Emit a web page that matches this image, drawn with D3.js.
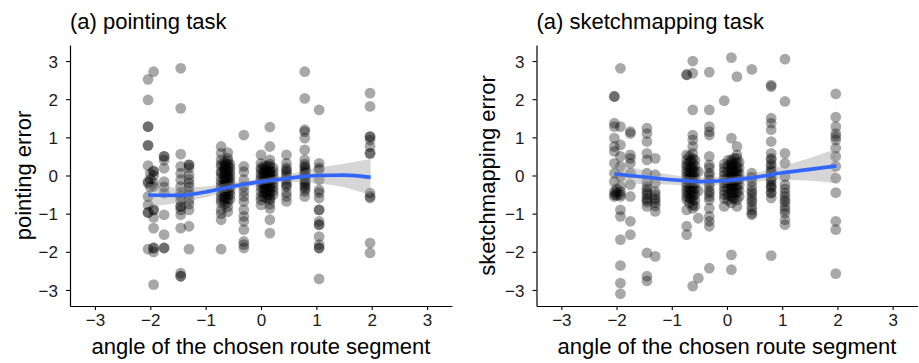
<!DOCTYPE html>
<html><head><meta charset="utf-8">
<script src="https://cdn.jsdelivr.net/npm/d3@7"></script>
<style>
html,body{margin:0;padding:0;background:#fff;}
svg{display:block;font-family:"Liberation Sans",Arial,Helvetica,sans-serif;}
</style></head><body>
<svg id="chart" width="919" height="363"></svg>
<script>
// ---------- data ----------
const xTicks = [-3, -2, -1, 0, 1, 2, 3];
const yTicks = [-3, -2, -1, 0, 1, 2, 3];
const panelTitles = ["(a) pointing task", "(a) sketchmapping task"];
const yTitles = ["pointing error", "sketchmapping error"];
const xTitle = "angle of the chosen route segment";

// pointing task points (x = angle, y = error)
const pointX = [
 -2.04,-2.04,-2.04,-2.04,-2.04,-2.04,-2.04,-2.04,-2.04,-2.04,-2.04,-2.04,-2.04,-2.04,
 -1.94,-1.94,-1.94,-1.94,-1.94,-1.94,-1.94,-1.94,-1.94,-1.94,-1.94,-1.94,-1.94,-1.94,
 -2.00,-2.00,-2.00,
 -1.75,-1.75,-1.75,-1.75,-1.75,-1.75,-1.75,-1.75,-1.75,-1.75,-1.75,
 -1.45,-1.45,-1.45,-1.45,-1.45,-1.45,-1.45,-1.45,-1.45,-1.45,-1.45,-1.45,-1.45,-1.45,-1.45,-1.45,-1.45,-1.45,
 -1.30,-1.30,-1.30,-1.30,-1.30,-1.30,-1.30,-1.30,-1.30,-1.30,-1.30,-1.30,-1.30,-1.30,
 -0.72,-0.72,-0.72,-0.72,-0.72,-0.72,-0.72,-0.72,-0.72,-0.72,-0.72,-0.72,-0.72,-0.72,-0.72,-0.72,-0.72,-0.72,-0.72,
 -0.66,-0.66,-0.66,-0.66,-0.66,-0.66,-0.66,-0.66,-0.66,-0.66,-0.66,-0.66,-0.66,-0.66,
 -0.64,-0.64,-0.64,-0.64,-0.64,-0.64,-0.64,
 -0.60,-0.60,-0.60,-0.60,-0.60,-0.60,-0.60,-0.60,-0.60,-0.60,-0.60,-0.60,-0.60,-0.60,-0.60,-0.60,-0.60,-0.60,-0.60,
 -0.56,-0.56,-0.56,-0.56,-0.56,-0.56,-0.56,-0.56,-0.56,-0.56,
 -0.31,-0.31,-0.31,-0.31,-0.31,-0.31,-0.31,-0.31,-0.31,-0.31,-0.31,-0.31,-0.31,-0.31,-0.31,
 0.00,0.00,0.00,0.00,0.00,0.00,0.00,0.00,0.00,0.00,0.00,0.00,0.00,
 0.05,0.05,0.05,0.05,0.05,0.05,0.05,0.05,0.05,
 0.08,0.08,0.08,0.08,0.08,0.08,0.08,
 0.10,0.10,0.10,0.10,0.10,0.10,
 0.12,0.12,0.12,0.12,0.12,0.12,
 0.16,0.16,0.16,0.16,0.16,0.16,0.16,0.16,0.16,0.16,0.16,0.16,0.16,0.16,0.16,0.16,0.16,0.16,0.16,0.16,0.16,0.16,
 0.22,0.22,0.22,0.22,0.22,0.22,0.22,0.22,
 0.46,0.46,0.46,0.46,0.46,0.46,0.46,0.46,0.46,0.46,0.46,0.46,0.46,0.46,
 0.79,0.79,0.79,0.79,0.79,0.79,0.79,0.79,0.79,0.79,0.79,0.79,0.79,0.79,0.79,0.79,0.79,
 0.80,0.80,0.80,0.80,0.80,0.80,
 1.05,1.05,1.05,1.05,1.05,1.05,1.05,1.05,1.05,1.05,1.05,1.05,1.05,1.05,1.05,1.05,1.05,1.05,
 1.97,1.97,1.97,1.97,1.97,1.97,1.97,1.97,1.97,1.97,1.97,1.97,1.97
];
const pointY = [
 2.52,1.98,1.28,1.28,0.79,0.79,0.26,-0.16,-0.20,-0.55,-0.77,-0.97,-0.97,-1.93,
 2.72,0.12,0.10,0.00,-0.20,-0.29,-0.90,-0.90,-1.10,-1.38,-1.90,-1.90,-2.00,-2.86,
 -0.10,-0.30,0.05,
 0.50,0.50,0.40,0.19,-0.16,-0.30,-0.46,-1.03,-1.55,-1.90,-1.90,
 2.81,1.76,0.56,0.24,0.06,-0.11,-0.29,-0.55,-0.81,-0.81,-0.90,-1.03,-1.38,-2.56,-2.64,-2.64,-0.45,-0.65,
 0.28,0.28,0.20,0.02,-0.20,-0.30,-0.42,-0.64,-0.90,-1.33,-1.93,-0.10,-0.50,-0.75,
 0.76,0.58,0.41,0.30,0.24,0.10,0.06,-0.05,-0.16,-0.25,-0.33,-0.45,-0.55,-0.64,-0.72,-0.90,-1.00,-1.16,-1.93,
 0.35,0.25,0.18,0.10,0.02,-0.05,-0.12,-0.20,-0.28,-0.36,-0.45,-0.55,-0.65,-0.75,
 0.30,0.15,0.00,-0.15,-0.30,-0.45,-0.60,
 0.60,0.45,0.38,0.30,0.22,0.15,0.08,0.00,-0.06,-0.12,-0.20,-0.28,-0.35,-0.42,-0.50,-0.60,-0.70,-0.82,-0.95,
 0.30,0.20,0.10,0.00,-0.10,-0.20,-0.30,-0.40,-0.50,-0.62,
 1.06,0.24,0.10,-0.11,-0.30,-0.42,-0.55,-0.68,-0.90,-1.07,-1.20,-1.42,-1.73,-1.81,-1.90,
 0.54,0.32,0.20,0.15,0.05,-0.03,-0.10,-0.20,-0.30,-0.42,-0.55,-0.64,-0.77,
 0.25,0.15,0.05,-0.05,-0.15,-0.25,-0.35,-0.45,-0.55,
 0.20,0.10,0.00,-0.10,-0.20,-0.30,-0.40,
 0.12,-0.02,-0.16,-0.30,-0.44,-0.60,
 0.25,0.10,-0.05,-0.20,-0.35,-0.50,
 1.27,0.76,0.41,0.30,0.24,0.15,0.10,0.06,0.00,-0.05,-0.11,-0.20,-0.29,-0.35,-0.42,-0.51,-0.60,-0.64,-0.75,-0.86,-1.16,-1.51,
 0.20,0.10,0.00,-0.10,-0.20,-0.30,-0.40,-0.50,
 0.54,0.32,0.20,0.15,0.05,-0.03,-0.20,-0.30,-0.45,-0.55,-0.68,0.10,-0.10,-0.25,
 2.72,2.02,1.20,1.15,0.98,0.67,0.41,0.30,0.24,0.15,0.06,0.00,-0.10,-0.20,-0.30,-0.42,-0.55,
 0.20,0.10,-0.05,-0.15,-0.25,-0.35,
 1.72,0.32,0.20,0.15,-0.11,-0.38,-0.45,-0.59,-0.90,-0.90,-1.20,-1.29,-1.29,-1.60,-1.81,-1.90,-1.90,-2.71,
 2.16,1.81,1.02,1.02,0.93,0.76,0.58,0.58,-0.46,-0.55,-0.59,-1.77,-2.03
];

// sketchmapping task points
const sketchX = [
 -2.04,-2.04,-2.04,-2.04,-2.04,-2.04,-2.04,-2.04,-2.04,-2.04,-2.04,-2.04,-2.04,
 -2.00,-2.00,-2.00,
 -1.93,-1.93,-1.93,-1.93,-1.93,-1.93,-1.93,-1.93,-1.93,-1.93,-1.93,-1.93,-1.93,-1.93,-1.93,-1.93,
 -1.75,-1.75,-1.75,-1.75,-1.75,-1.75,-1.75,-1.75,-1.75,-1.75,
 -1.45,-1.45,-1.45,-1.45,-1.45,-1.45,-1.45,-1.45,-1.45,-1.45,-1.45,-1.45,-1.45,-1.45,-1.45,-1.45,-1.45,-1.45,
 -1.30,-1.30,-1.30,-1.30,-1.30,-1.30,-1.30,-1.30,-1.30,-1.30,-1.30,
 -0.73,-0.73,-0.73,-0.73,-0.73,-0.73,-0.73,-0.73,-0.73,-0.73,-0.73,-0.73,-0.73,-0.73,-0.73,-0.73,-0.73,-0.73,-0.73,
 -0.68,-0.68,-0.68,-0.68,-0.68,-0.68,-0.68,-0.68,-0.68,-0.68,-0.68,
 -0.65,-0.65,-0.65,-0.65,-0.65,-0.65,
 -0.62,-0.62,-0.62,-0.62,-0.62,-0.62,-0.62,-0.62,-0.62,-0.62,-0.62,-0.62,-0.62,-0.62,-0.62,-0.62,-0.62,-0.62,-0.62,-0.62,-0.62,-0.62,
 -0.58,-0.58,-0.58,-0.58,-0.58,-0.58,-0.58,-0.58,-0.58,
 -0.52,-0.52,-0.52,-0.52,
 -0.32,-0.32,-0.32,-0.32,-0.32,-0.32,-0.32,-0.32,-0.32,-0.32,-0.32,-0.32,-0.32,-0.32,-0.32,-0.32,-0.32,
 -0.32,-0.32,-0.32,-0.32,-0.32,
 -0.05,-0.05,-0.05,-0.05,-0.05,-0.05,-0.05,-0.05,-0.05,-0.05,-0.05,-0.05,
 0.02,0.02,0.02,0.02,0.02,0.02,0.02,0.02,
 0.08,0.08,0.08,0.08,0.08,0.08,0.08,0.08,0.08,0.08,0.08,0.08,0.08,0.08,0.08,0.08,0.08,0.08,0.08,0.08,
 0.10,0.10,0.10,0.10,0.10,0.10,0.10,
 0.13,0.13,0.13,0.13,0.13,0.13,0.13,0.13,
 0.18,0.18,0.18,0.18,0.18,0.18,0.18,0.18,0.18,0.18,0.18,0.18,0.18,0.18,0.18,
 0.22,0.22,0.22,0.22,0.22,0.22,0.22,
 0.45,0.45,0.45,0.45,0.45,0.45,0.45,0.45,0.45,0.45,0.45,0.45,0.45,0.45,
 0.80,0.80,0.80,0.80,0.80,0.80,0.80,0.80,0.80,0.80,0.80,0.80,0.80,0.80,0.80,0.80,0.80,0.80,0.80,
 0.80,0.80,0.80,0.80,0.80,
 1.05,1.05,1.05,1.05,1.05,1.05,1.05,1.05,1.05,1.05,1.05,1.05,1.05,1.05,1.05,1.05,
 1.97,1.97,1.97,1.97,1.97,1.97,1.97,1.97,1.97,1.97,1.97,1.97,1.97,1.97
];
const sketchY = [
 2.07,2.07,1.37,1.28,0.98,0.76,0.63,0.32,0.06,-0.16,-0.42,-0.50,-0.55,
 -0.45,-0.52,-0.35,
 2.81,1.28,0.80,0.50,0.24,-0.03,-0.29,-0.42,-0.50,-0.55,-0.90,-1.07,-1.68,-2.36,-2.82,-3.10,
 1.15,1.10,0.54,0.45,0.32,0.06,-0.24,-0.55,-1.20,-1.55,
 1.24,1.10,0.89,0.58,0.41,0.06,-0.16,-0.38,-0.51,-0.64,-0.81,-2.03,-2.64,-2.76,-0.45,-0.60,-0.70,-0.30,
 0.45,0.02,-0.20,-0.42,-0.59,-0.72,-0.94,-2.12,-0.50,-0.65,-0.80,
 2.64,2.64,0.54,0.41,0.30,0.24,0.15,0.06,-0.03,-0.11,-0.20,-0.29,-0.38,-0.46,-0.55,-0.64,-0.90,-1.33,-1.55,
 0.50,0.35,0.22,0.10,0.00,-0.10,-0.22,-0.35,-0.48,-0.60,-0.72,
 0.40,0.20,0.00,-0.20,-0.40,-0.60,
 3.00,2.68,1.72,1.06,0.93,0.76,0.58,0.45,0.32,0.20,0.15,0.05,-0.03,-0.12,-0.24,-0.33,-0.42,-0.52,-0.64,-0.77,-0.86,-2.90,
 0.40,0.25,0.10,-0.05,-0.20,-0.35,-0.50,-0.65,-0.80,
 0.10,-0.40,-1.12,-2.69,
 2.71,1.72,1.28,1.15,1.06,0.50,0.28,0.06,-0.11,-0.29,-0.46,-0.64,-0.86,-1.07,-1.20,-1.33,-2.43,
 0.00,-0.20,-0.40,0.20,-0.55,
 1.96,0.30,0.20,0.10,0.00,-0.10,-0.20,-0.30,-0.40,-0.50,-0.60,-0.81,
 0.40,0.25,0.10,-0.05,-0.20,-0.35,-0.50,-0.65,
 3.09,0.98,0.41,0.35,0.28,0.20,0.15,0.08,0.02,-0.05,-0.11,-0.18,-0.24,-0.30,-0.38,-0.45,-0.55,-0.72,-2.08,-2.47,
 0.30,0.15,0.00,-0.15,-0.30,-0.45,-0.60,
 0.45,0.30,0.15,0.00,-0.15,-0.30,-0.45,-0.60,
 2.59,0.76,0.54,0.45,0.32,0.20,0.15,0.05,-0.03,-0.12,-0.24,-0.35,-0.46,-0.64,-0.81,
 0.35,0.20,0.05,-0.10,-0.25,-0.40,-0.55,
 2.78,0.06,-0.05,-0.16,-0.29,-0.46,-0.64,-0.81,-0.99,-1.03,-0.40,-0.55,-0.70,-0.90,
 2.37,2.33,1.50,1.37,1.20,0.89,0.58,0.41,0.30,0.24,0.15,0.06,-0.05,-0.16,-0.25,-0.33,-0.46,-0.59,-2.10,
 0.10,-0.10,-0.30,-0.45,0.45,
 3.05,1.94,0.58,0.32,-0.03,-0.24,-0.46,-0.55,-0.64,-0.81,-0.99,-1.16,-1.29,-0.35,-0.70,-0.90,
 2.14,1.53,1.28,1.10,1.02,0.93,0.72,0.50,0.24,-0.07,-0.45,-1.20,-1.42,-2.57
];

// loess fits and confidence bands
const smoothX = [-2.04, -1.5, -1.0, -0.5, 0, 0.5, 1.0, 1.5, 1.98];
const pointFit = [-0.51, -0.52, -0.43, -0.28, -0.16, -0.07, 0.0, 0.01, -0.05];
const pointLo  = [-0.81, -0.72, -0.57, -0.38, -0.24, -0.17, -0.20, -0.31, -0.52];
const pointHi  = [-0.21, -0.32, -0.29, -0.18, -0.08, 0.03, 0.20, 0.31, 0.43];
const sketchFit = [0.04, -0.04, -0.11, -0.16, -0.13, -0.05, 0.07, 0.16, 0.25];
const sketchLo  = [-0.24, -0.22, -0.24, -0.27, -0.22, -0.16, -0.11, -0.14, -0.20];
const sketchHi  = [0.32, 0.14, 0.02, -0.05, -0.04, 0.06, 0.25, 0.46, 0.70];

// ---------- drawing ----------
const svg = d3.select("#chart");
const panels = [
  {xs: pointX, ys: pointY, fit: pointFit, lo: pointLo, hi: pointHi,
   left: 70, right: 452, title: panelTitles[0], ytitle: yTitles[0], ytx: 31},
  {xs: sketchX, ys: sketchY, fit: sketchFit, lo: sketchLo, hi: sketchHi,
   left: 536.5, right: 917.5, title: panelTitles[1], ytitle: yTitles[1], ytx: 495}
];
const plotTop = 45, plotBottom = 306;

panels.forEach(p => {
  const x = d3.scaleLinear().domain([-3.45, 3.45]).range([p.left, p.right]);
  const y = d3.scaleLinear().domain([-3.42, 3.42]).range([plotBottom, plotTop]);
  const g = svg.append("g");

  // points
  g.append("g").selectAll("circle")
    .data(p.xs.map((v, i) => [v, p.ys[i]]))
    .join("circle")
    .attr("cx", d => x(d[0]))
    .attr("cy", d => y(d[1]))
    .attr("r", 5.4)
    .attr("fill", "#000")
    .attr("fill-opacity", 0.34);

  // band
  const sm = smoothX.map((v, i) => ({x: v, f: p.fit[i], lo: p.lo[i], hi: p.hi[i]}));
  g.append("path")
    .datum(sm)
    .attr("d", d3.area().curve(d3.curveMonotoneX)
      .x(d => x(d.x)).y0(d => y(d.lo)).y1(d => y(d.hi)))
    .attr("fill", "#999999").attr("fill-opacity", 0.4);
  g.append("path")
    .datum(sm)
    .attr("d", d3.line().curve(d3.curveMonotoneX).x(d => x(d.x)).y(d => y(d.f)))
    .attr("fill", "none").attr("stroke", "#3366FF").attr("stroke-width", 3.6);

  // axes
  const fmt = d => d < 0 ? "\u2212" + Math.abs(d) : String(d);
  const xa = g.append("g").attr("transform", `translate(0,${plotBottom})`)
    .call(d3.axisBottom(x).tickValues(xTicks).tickFormat(fmt).tickSize(4).tickSizeOuter(0).tickPadding(4));
  const ya = g.append("g").attr("transform", `translate(${p.left},0)`)
    .call(d3.axisLeft(y).tickValues(yTicks).tickFormat(fmt).tickSize(4).tickSizeOuter(0).tickPadding(8));
  [xa, ya].forEach(a => {
    a.select(".domain").attr("stroke", "#000").attr("stroke-width", 1.2);
    a.selectAll(".tick line").attr("stroke", "#000").attr("stroke-width", 1.1);
    a.selectAll(".tick text").attr("fill", "#1a1a1a").attr("font-size", 17)
      .attr("font-family", "Liberation Sans, Arial, sans-serif");
  });
  ya.selectAll(".tick text").attr("dy", "0.36em");

  // titles
  g.append("text").attr("x", p.left).attr("y", 29)
    .attr("font-size", 22).attr("fill", "#000").text(p.title);
  g.append("text").attr("x", (p.left + p.right) / 2).attr("y", 354)
    .attr("text-anchor", "middle").attr("font-size", 22).attr("fill", "#000").text(xTitle);
  g.append("text")
    .attr("transform", `translate(${p.ytx},${(plotTop + plotBottom) / 2}) rotate(-90)`)
    .attr("text-anchor", "middle").attr("font-size", 22).attr("fill", "#000").text(p.ytitle);
});
</script></body></html>
